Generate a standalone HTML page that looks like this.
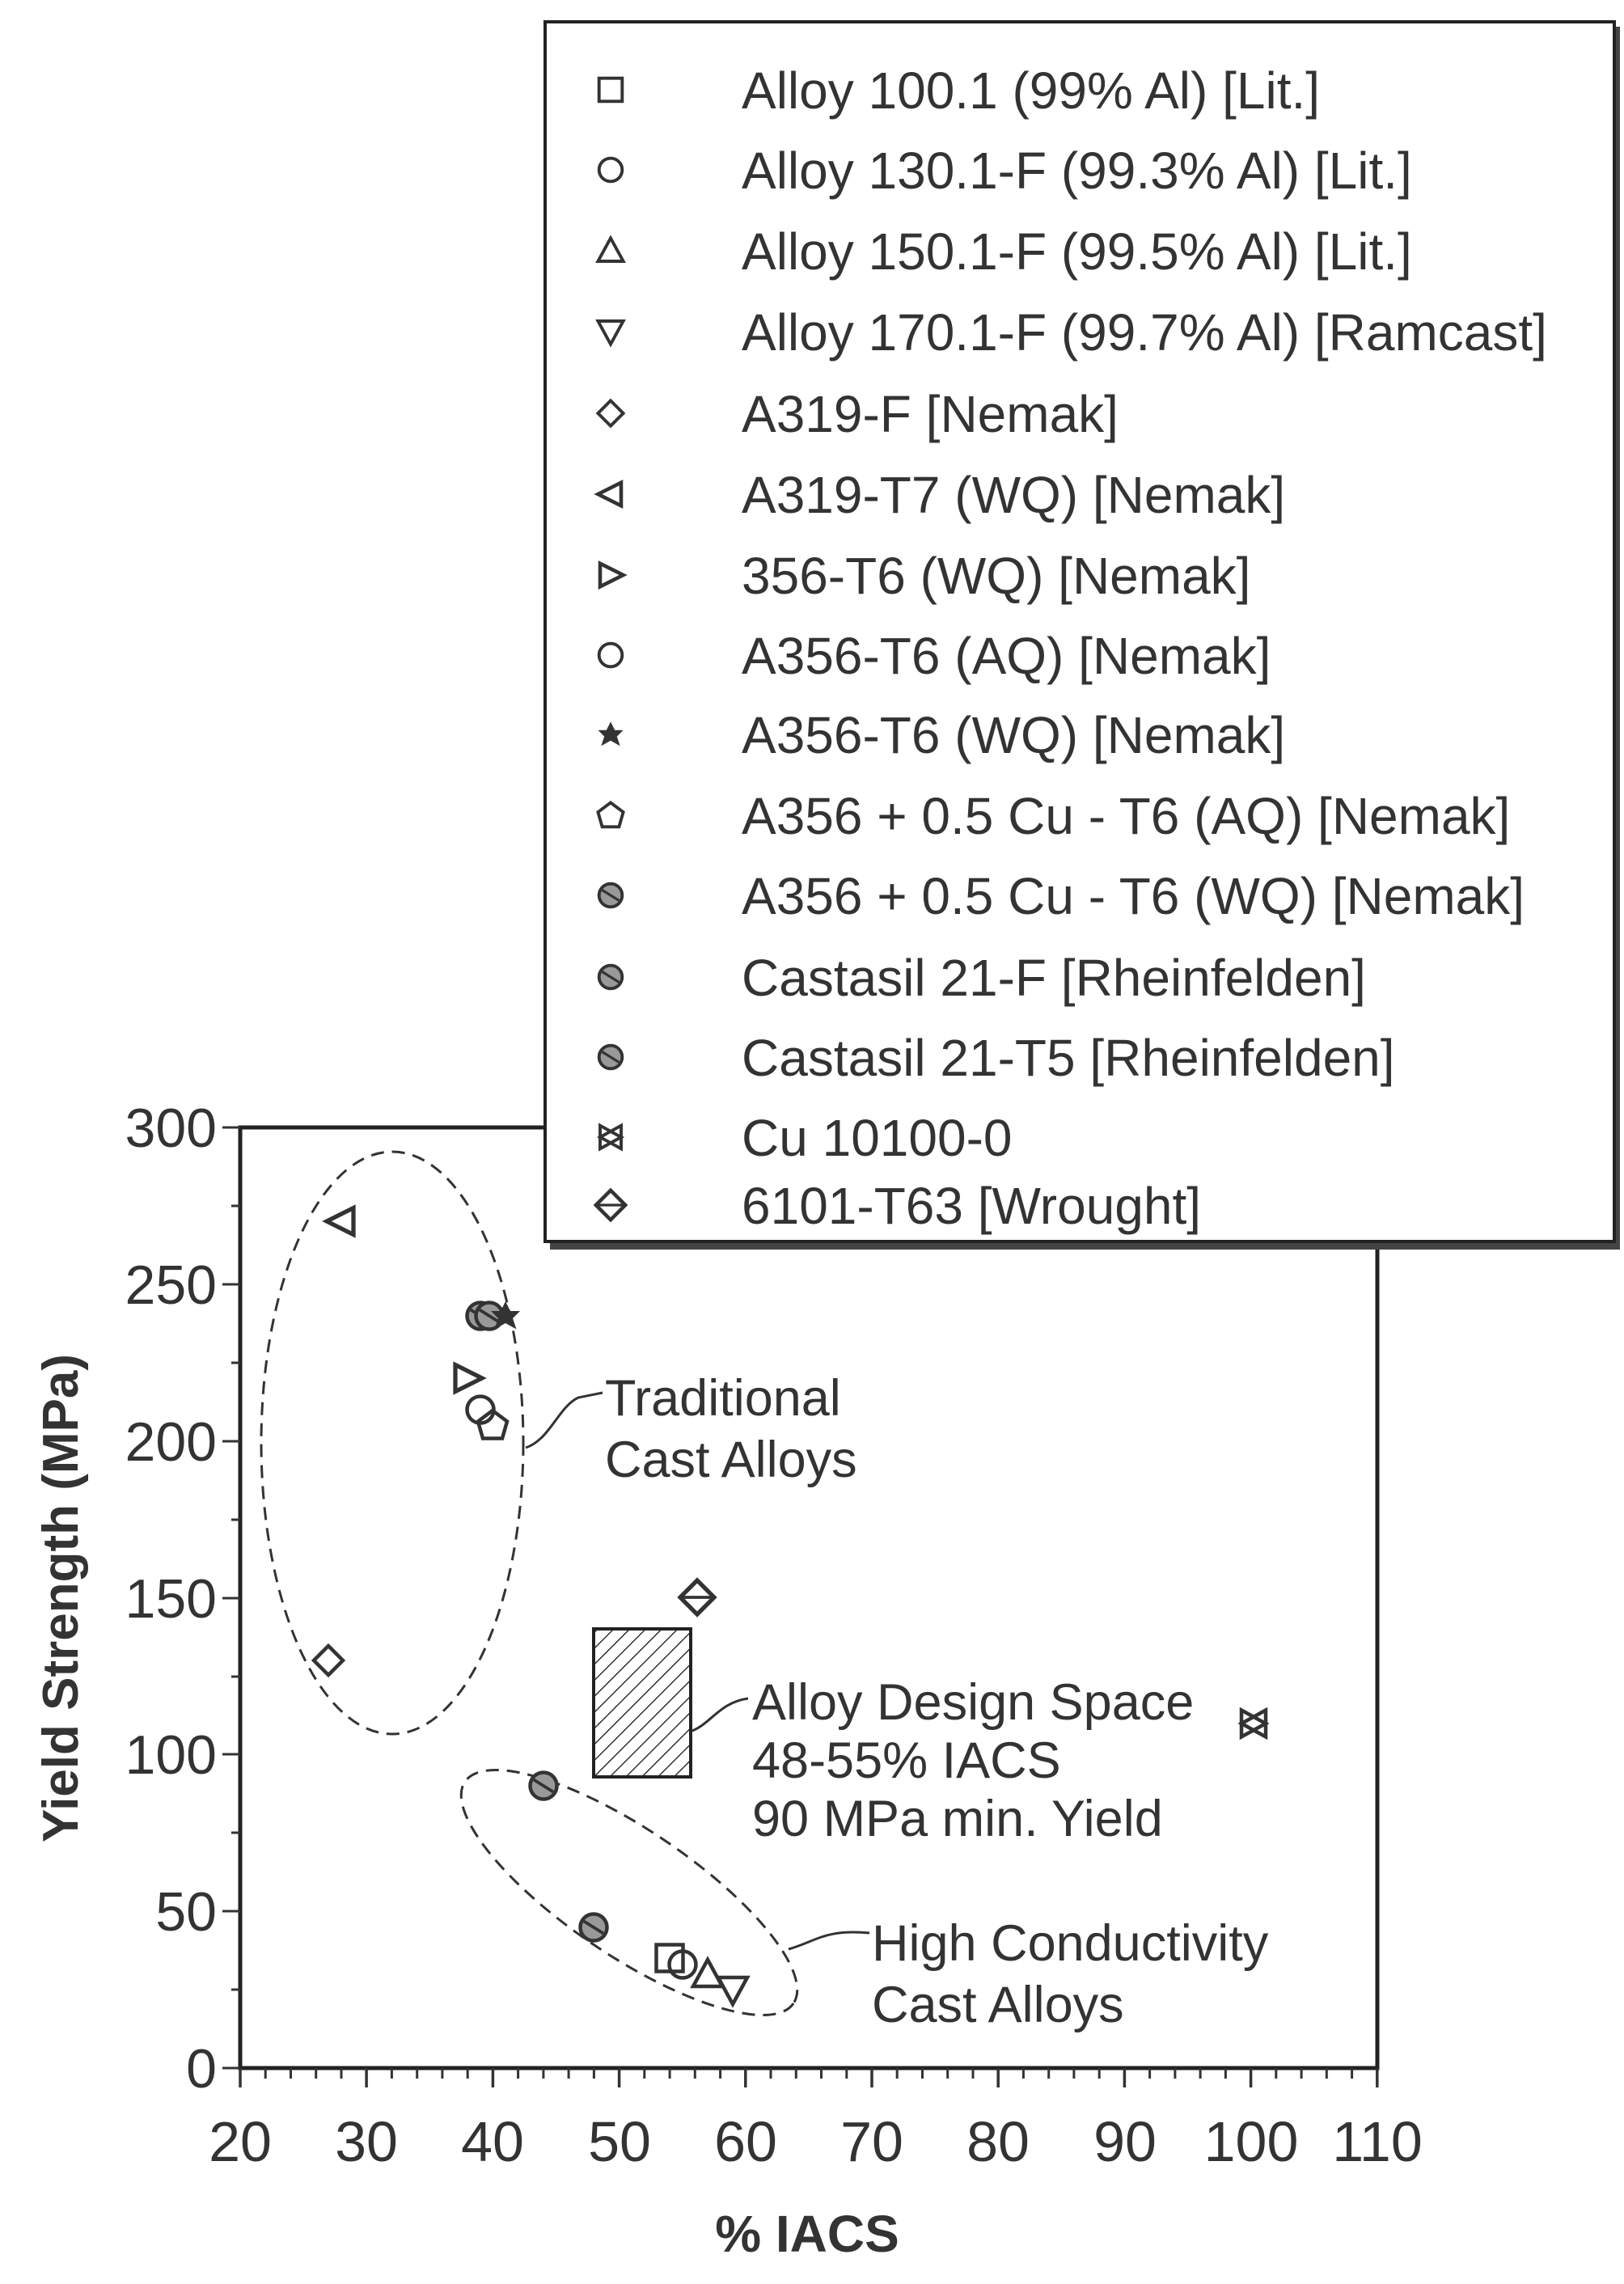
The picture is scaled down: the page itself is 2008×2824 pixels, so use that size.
<!DOCTYPE html>
<html><head><meta charset="utf-8"><style>
html,body{margin:0;padding:0;background:#fff;}
svg{display:block;}
text{font-family:"Liberation Sans",Arial,sans-serif;fill:#333;}
</style></head><body>
<svg width="2008" height="2824" viewBox="0 0 2008 2824" xmlns="http://www.w3.org/2000/svg">
<defs>
<pattern id="h" width="14" height="14" patternUnits="userSpaceOnUse" patternTransform="rotate(45)">
<line x1="0" y1="0" x2="0" y2="14" stroke="#333" stroke-width="3"/>
</pattern>
<g id="sq"><rect x="-11" y="-11" width="22" height="22" fill="none" stroke="#333" stroke-width="3"/></g>
<g id="ci"><circle r="11" fill="none" stroke="#333" stroke-width="3"/></g>
<g id="ut"><polygon points="0,-12 12,10 -12,10" fill="none" stroke="#333" stroke-width="3"/></g>
<g id="dt"><polygon points="0,12 12,-10 -12,-10" fill="none" stroke="#333" stroke-width="3"/></g>
<g id="di"><polygon points="0,-12 12,0 0,12 -12,0" fill="none" stroke="#333" stroke-width="3"/></g>
<g id="lt"><polygon points="-12,0 10,-11 10,11" fill="none" stroke="#333" stroke-width="3.5"/></g>
<g id="rt"><polygon points="12,0 -10,-11 -10,11" fill="none" stroke="#333" stroke-width="3.5"/></g>
<g id="st"><polygon points="0,-12 4,-4 12,-4 6,2 9,11 0,6 -9,11 -6,2 -12,-4 -4,-4" fill="#333"/></g>
<g id="pe"><polygon points="0,-12 12,-3 8,11 -8,11 -12,-3" fill="none" stroke="#333" stroke-width="3"/></g>
<g id="hc"><circle r="11" fill="#999" stroke="#333" stroke-width="3"/><line x1="-8" y1="-5" x2="8" y2="5" stroke="#333" stroke-width="2.5"/></g>
<g id="cu"><polygon points="-10,-11 10,0 -10,11" fill="none" stroke="#333" stroke-width="3"/><polygon points="10,-11 -10,0 10,11" fill="none" stroke="#333" stroke-width="3"/></g>
<g id="wd"><polygon points="0,-14 14,0 0,14 -14,0" fill="none" stroke="#333" stroke-width="3.5"/><line x1="-14" y1="0" x2="14" y2="0" stroke="#333" stroke-width="2.5"/></g>
</defs>

<rect x="297" y="1394" width="1406" height="1163" fill="none" stroke="#222" stroke-width="5"/>

<g stroke="#333" stroke-width="3">
<line x1="275" y1="1394" x2="297" y2="1394"/><line x1="275" y1="1588" x2="297" y2="1588"/>
<line x1="275" y1="1782" x2="297" y2="1782"/><line x1="275" y1="1976" x2="297" y2="1976"/>
<line x1="275" y1="2169" x2="297" y2="2169"/><line x1="275" y1="2363" x2="297" y2="2363"/>
<line x1="275" y1="2557" x2="297" y2="2557"/>
<line x1="286" y1="1491" x2="297" y2="1491"/><line x1="286" y1="1685" x2="297" y2="1685"/>
<line x1="286" y1="1879" x2="297" y2="1879"/><line x1="286" y1="2073" x2="297" y2="2073"/>
<line x1="286" y1="2266" x2="297" y2="2266"/><line x1="286" y1="2460" x2="297" y2="2460"/>
</g>
<path stroke="#333" stroke-width="3" fill="none" d="M328.2,2557v13M359.5,2557v13M390.7,2557v13M422,2557v13M484.4,2557v13M515.7,2557v13M546.9,2557v13M578.2,2557v13M640.6,2557v13M671.9,2557v13M703.1,2557v13M734.4,2557v13M796.8,2557v13M828.1,2557v13M859.3,2557v13M890.6,2557v13M953,2557v13M984.3,2557v13M1015.5,2557v13M1046.8,2557v13M1109.2,2557v13M1140.5,2557v13M1171.7,2557v13M1203,2557v13M1265.4,2557v13M1296.7,2557v13M1327.9,2557v13M1359.2,2557v13M1421.6,2557v13M1452.9,2557v13M1484.1,2557v13M1515.4,2557v13M1577.8,2557v13M1609.1,2557v13M1640.3,2557v13M1671.6,2557v13"/>
<path stroke="#333" stroke-width="3.5" fill="none" d="M297,2557v24M453.1,2557v24M609.4,2557v24M765.6,2557v24M921.8,2557v24M1078,2557v24M1234.2,2557v24M1390.4,2557v24M1546.6,2557v24M1702.8,2557v24"/>
<g font-size="68" text-anchor="end">
<text x="268" y="1418">300</text><text x="268" y="1612">250</text><text x="268" y="1806">200</text>
<text x="268" y="2000">150</text><text x="268" y="2193">100</text><text x="268" y="2387">50</text><text x="268" y="2581">0</text>
</g>
<g font-size="70" text-anchor="middle">
<text x="297" y="2672">20</text><text x="453" y="2672">30</text><text x="609" y="2672">40</text>
<text x="766" y="2672">50</text><text x="922" y="2672">60</text><text x="1078" y="2672">70</text>
<text x="1234" y="2672">80</text><text x="1391" y="2672">90</text><text x="1547" y="2672">100</text><text x="1703" y="2672">110</text>
</g>
<text x="998" y="2784" font-size="64" font-weight="bold" text-anchor="middle">% IACS</text>
<text transform="translate(96,1976) rotate(-90)" font-size="62" font-weight="bold" text-anchor="middle">Yield Strength (MPa)</text>

<ellipse cx="485" cy="1784" rx="162" ry="360" fill="none" stroke="#333" stroke-width="3" stroke-dasharray="16,10"/>
<ellipse cx="0" cy="0" rx="245" ry="78" transform="translate(778,2340) rotate(34)" fill="none" stroke="#333" stroke-width="3" stroke-dasharray="16,10"/>

<rect x="734" y="2014" width="120" height="183" fill="url(#h)" stroke="#222" stroke-width="4"/>

<g fill="none" stroke="#333" stroke-width="3">
<path d="M650,1790 C680,1780 690,1740 715,1728 L745,1722"/>
<path d="M856,2140 C880,2130 890,2105 925,2100"/>
<path d="M975,2410 C1010,2400 1020,2385 1075,2390"/>
</g>
<g font-size="63">
<text x="748" y="1750">Traditional</text><text x="748" y="1826">Cast Alloys</text>
<text x="930" y="2126">Alloy Design Space</text><text x="930" y="2198">48-55% IACS</text><text x="930" y="2270">90 MPa min. Yield</text>
<text x="1078" y="2424">High Conductivity</text><text x="1078" y="2500">Cast Alloys</text>
</g>

<g>
<use href="#lt" transform="translate(422,1510) scale(1.5)"/>
<use href="#rt" transform="translate(578,1704) scale(1.5)"/>
<use href="#ci" transform="translate(594,1743) scale(1.5)"/>
<use href="#pe" transform="translate(609,1762) scale(1.5)"/>
<use href="#hc" transform="translate(594,1627) scale(1.5)"/>
<use href="#hc" transform="translate(605,1627) scale(1.5)"/>
<use href="#st" transform="translate(625,1627) scale(1.5)"/>
<use href="#di" transform="translate(406,2053) scale(1.5)"/>
<use href="#wd" transform="translate(862,1975) scale(1.5)"/>
<use href="#cu" transform="translate(1550,2131) scale(1.5)"/>
<use href="#hc" transform="translate(672,2208) scale(1.5)"/>
<use href="#hc" transform="translate(734,2383) scale(1.5)"/>
<use href="#sq" transform="translate(828,2421) scale(1.5)"/>
<use href="#ci" transform="translate(844,2429) scale(1.5)"/>
<use href="#ut" transform="translate(875,2441) scale(1.5)"/>
<use href="#dt" transform="translate(906,2460) scale(1.5)"/>
</g>

<rect x="680" y="33" width="1323" height="1512" fill="#444"/>
<rect x="674" y="27" width="1322" height="1508" fill="#fff" stroke="#222" stroke-width="4"/>
<g>
<use href="#sq" transform="translate(755,111) scale(1.3)"/><use href="#ci" transform="translate(755,210) scale(1.3)"/><use href="#ut" transform="translate(755,310) scale(1.3)"/>
<use href="#dt" transform="translate(755,410) scale(1.3)"/><use href="#di" transform="translate(755,511) scale(1.3)"/><use href="#lt" transform="translate(755,611) scale(1.3)"/>
<use href="#rt" transform="translate(755,711) scale(1.3)"/><use href="#ci" transform="translate(755,810) scale(1.3)"/><use href="#st" transform="translate(755,908) scale(1.3)"/>
<use href="#pe" transform="translate(755,1008) scale(1.3)"/><use href="#hc" transform="translate(755,1107) scale(1.3)"/><use href="#hc" transform="translate(755,1208) scale(1.3)"/>
<use href="#hc" transform="translate(755,1307) scale(1.3)"/><use href="#cu" transform="translate(755,1406) scale(1.3)"/><use href="#wd" transform="translate(755,1490) scale(1.3)"/>
</g>
<g font-size="64">
<text x="917" y="134">Alloy 100.1 (99% Al) [Lit.]</text>
<text x="917" y="233">Alloy 130.1-F (99.3% Al) [Lit.]</text>
<text x="917" y="333">Alloy 150.1-F (99.5% Al) [Lit.]</text>
<text x="917" y="433">Alloy 170.1-F (99.7% Al) [Ramcast]</text>
<text x="917" y="534">A319-F [Nemak]</text>
<text x="917" y="634">A319-T7  (WQ) [Nemak]</text>
<text x="917" y="734">356-T6  (WQ) [Nemak]</text>
<text x="917" y="833">A356-T6  (AQ) [Nemak]</text>
<text x="917" y="931">A356-T6  (WQ) [Nemak]</text>
<text x="917" y="1031">A356 + 0.5 Cu - T6  (AQ) [Nemak]</text>
<text x="917" y="1130">A356 + 0.5 Cu - T6  (WQ) [Nemak]</text>
<text x="917" y="1231">Castasil 21-F [Rheinfelden]</text>
<text x="917" y="1330">Castasil 21-T5 [Rheinfelden]</text>
<text x="917" y="1429">Cu 10100-0</text>
<text x="917" y="1513">6101-T63 [Wrought]</text>
</g>
</svg>
</body></html>
